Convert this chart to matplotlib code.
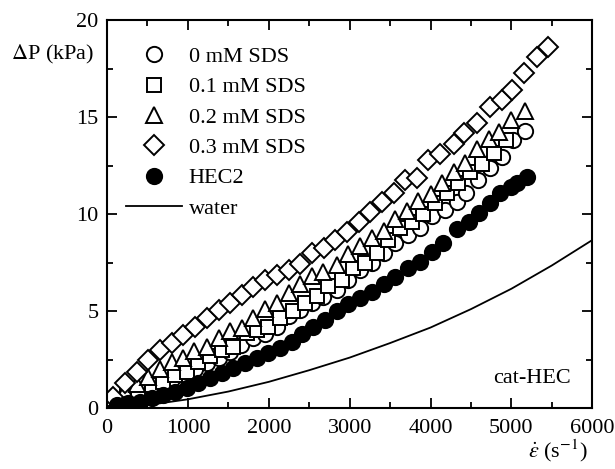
import matplotlib
matplotlib.use('Agg')
import matplotlib.pyplot as plt
from matplotlib.ticker import MultipleLocator

plt.rcParams['font.family'] = ['Liberation Serif', 'DejaVu Serif']
plt.rcParams['mathtext.fontset'] = 'stix'

# 0 mM SDS (open circles)
x_0 = [90, 230, 370, 520, 660, 800, 950, 1090, 1240, 1380, 1520, 1660, 1800, 1950,
       2100, 2245, 2390, 2535, 2670, 2840, 2985, 3130, 3280, 3420, 3565, 3725, 3870,
       4020, 4180, 4330, 4445, 4590, 4730, 4880, 5025, 5170]
y_0 = [0.35, 0.6, 0.85, 1.05, 1.25, 1.5, 1.7, 2.0, 2.3, 2.6, 2.9, 3.25, 3.6, 3.8,
       4.2, 4.75, 5.05, 5.4, 5.7, 6.1, 6.6, 7.1, 7.5, 8.0, 8.5, 8.9, 9.3,
       9.9, 10.2, 10.6, 11.1, 11.75, 12.4, 12.95, 13.8, 14.3]

# 0.1 mM SDS (open squares)
x_01 = [100, 245, 385, 555, 695, 840, 990, 1125, 1275, 1420, 1560, 1725, 1850, 1995,
        2140, 2300, 2450, 2600, 2735, 2905, 3045, 3190, 3340, 3480, 3625, 3775, 3910,
        4060, 4205, 4345, 4490, 4640, 4780, 4930]
y_01 = [0.4, 0.65, 0.9, 1.2, 1.35, 1.7, 1.85, 2.35, 2.7, 3.0, 3.15, 3.85, 4.0, 4.2,
        4.65, 5.0, 5.4, 5.8, 6.3, 6.6, 7.2, 7.5, 8.0, 8.65, 9.3, 9.6, 10.0,
        10.55, 11.1, 11.6, 12.15, 12.6, 13.15, 13.8]

# 0.2 mM SDS (open triangles)
x_02 = [75, 220, 370, 510, 655, 800, 945, 1080, 1235, 1380, 1520, 1665, 1810, 1955,
        2100, 2245, 2390, 2535, 2670, 2840, 2985, 3130, 3280, 3420, 3565, 3710, 3850,
        4000, 4140, 4285, 4430, 4575, 4720, 4850, 5000, 5170]
y_02 = [0.5, 0.9, 1.25, 1.6, 2.0, 2.35, 2.6, 2.95, 3.15, 3.6, 3.95, 4.15, 4.65, 5.1,
        5.4, 5.95, 6.4, 6.8, 7.0, 7.4, 7.95, 8.35, 8.75, 9.15, 9.75, 10.15, 10.65,
        11.05, 11.6, 12.15, 12.65, 13.35, 13.85, 14.25, 14.85, 15.3]

# 0.3 mM SDS (open diamonds)
x_03 = [75, 220, 370, 510, 650, 800, 945, 1090, 1235, 1380, 1520, 1665, 1810, 1955,
        2100, 2245, 2390, 2535, 2680, 2820, 2970, 3110, 3255, 3400, 3545, 3690, 3830,
        3975, 4120, 4285, 4420, 4570, 4730, 4880, 5010, 5160, 5320, 5450]
y_03 = [0.57, 1.28, 1.86, 2.47, 2.99, 3.35, 3.76, 4.18, 4.63, 5.05, 5.4, 5.82, 6.25, 6.6,
        6.86, 7.1, 7.45, 8.0, 8.25, 8.66, 9.07, 9.6, 10.1, 10.6, 11.1, 11.75, 11.85,
        12.8, 13.1, 13.6, 14.2, 14.7, 15.5, 15.9, 16.4, 17.3, 18.1, 18.6]

# HEC2 (filled circles)
x_hec = [125, 260, 410, 555, 695, 840, 990, 1125, 1275, 1420, 1560, 1710, 1850, 1995,
         2140, 2290, 2410, 2550, 2700, 2840, 2985, 3130, 3280, 3420, 3565, 3725, 3870,
         4020, 4160, 4330, 4470, 4595, 4740, 4865, 4990, 5070, 5195]
y_hec = [0.15, 0.25, 0.33, 0.5, 0.67, 0.82, 1.05, 1.3, 1.55, 1.8, 2.05, 2.3, 2.6, 2.85,
         3.1, 3.4, 3.8, 4.2, 4.55, 5.0, 5.35, 5.65, 6.0, 6.4, 6.75, 7.2, 7.55,
         8.05, 8.5, 9.25, 9.6, 10.05, 10.55, 11.1, 11.4, 11.6, 11.9]

# water (line)
x_water = [0, 500, 1000, 1500, 2000, 2500, 3000, 3500, 4000, 4500, 5000, 5500, 6000]
y_water = [0, 0.15, 0.45, 0.85, 1.35, 1.95, 2.6, 3.35, 4.15, 5.1, 6.15, 7.35, 8.66]

fig = plt.figure(figsize=(6.15, 4.69), dpi=100)
ax = fig.add_axes([0.174, 0.130, 0.789, 0.827])

ms = 11
mew = 1.4
ax.plot(x_0, y_0, 'o', ms=ms, mfc='white', mec='black', mew=mew, label='0 mM SDS')
ax.plot(x_01, y_01, 's', ms=ms - 1, mfc='white', mec='black', mew=mew, label='0.1 mM SDS')
ax.plot(x_02, y_02, '^', ms=ms + 1, mfc='white', mec='black', mew=mew, label='0.2 mM SDS')
ax.plot(x_03, y_03, 'D', ms=ms - 1, mfc='white', mec='black', mew=mew, label='0.3 mM SDS')
ax.plot(x_hec, y_hec, 'o', ms=ms, mfc='black', mec='black', mew=mew, label='HEC2')
ax.plot(x_water, y_water, '-', color='black', lw=1.3, label='water')

ax.set_xlim(0, 6000)
ax.set_ylim(0, 20)
ax.xaxis.set_major_locator(MultipleLocator(1000))
ax.xaxis.set_minor_locator(MultipleLocator(500))
ax.yaxis.set_major_locator(MultipleLocator(5))
ax.yaxis.set_minor_locator(MultipleLocator(2.5))
ax.tick_params(which='both', direction='in', top=True, right=True, labelsize=16, width=1.3)
ax.tick_params(which='major', length=7)
ax.tick_params(which='minor', length=4.5)
ax.tick_params(axis='x', pad=8)
ax.tick_params(axis='y', pad=6)
for s in ax.spines.values():
    s.set_linewidth(1.5)

leg = ax.legend(loc='upper left', frameon=False, fontsize=16, handlelength=2.5,
                handletextpad=0.3, labelspacing=0.44, borderaxespad=0.3,
                bbox_to_anchor=(0.008, 0.972))

ax.text(0.955, 0.075, 'cat-HEC', transform=ax.transAxes, fontsize=16, ha='right', va='center')
fig.text(0.018, 0.883, r'$\Delta$P (kPa)', fontsize=16, ha='left', va='center')
fig.text(0.955, 0.038, r'$\dot{\varepsilon}$ (s$^{-1}$)', fontsize=16, ha='right', va='center')

fig.savefig('out.png', dpi=100)
